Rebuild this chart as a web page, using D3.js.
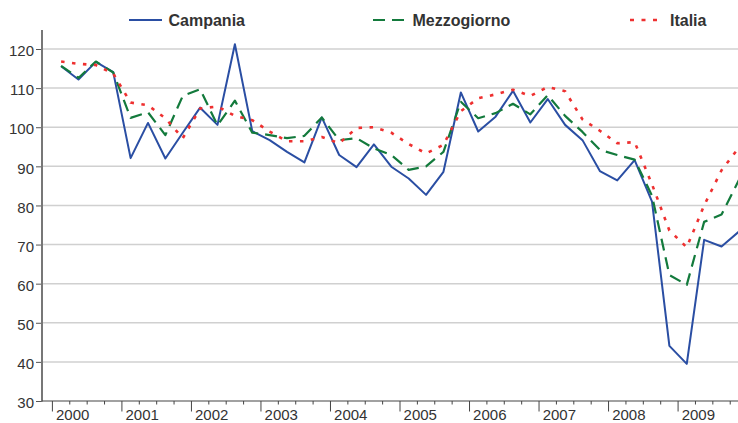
<!DOCTYPE html>
<html><head><meta charset="utf-8">
<script src="https://cdn.jsdelivr.net/npm/d3@7"></script>
<style>html,body{margin:0;padding:0;background:#fff;}svg{display:block;font-family:"Liberation Sans",Arial,sans-serif;}</style>
</head><body>
<svg id="c" width="738" height="423"></svg>
<script>
const years = [2000,2001,2002,2003,2004,2005,2006,2007,2008,2009];
const yTicks = [30,40,50,60,70,80,90,100,110,120];
const seriesNames = ["Campania","Mezzogiorno","Italia"];
const campania = [115.6,112.2,116.7,114.1,92.1,101.1,92.0,98.6,105.0,100.6,121.2,99.0,96.7,93.7,91.0,102.5,92.9,89.8,95.6,89.9,86.9,82.7,88.6,108.9,98.9,102.7,109.3,101.2,107.2,100.6,96.7,88.8,86.4,91.6,81.0,44.1,39.5,71.2,69.5,73.3];
const mezzogiorno = [115.7,112.6,116.8,114.0,102.4,103.8,98.0,108.0,109.7,100.5,106.8,98.6,98.0,97.2,97.8,102.5,96.7,97.2,94.6,92.9,89.1,90.0,93.7,106.5,102.3,103.6,106.0,103.3,108.2,102.9,98.8,94.2,92.9,91.7,82.5,62.2,59.7,75.8,77.7,86.5];
const italia = [116.8,116.2,115.9,113.7,106.3,105.6,102.3,97.2,104.8,105.3,102.9,101.8,98.9,96.4,96.4,97.5,95.9,99.8,100.0,98.6,95.7,93.3,95.5,104.1,107.4,108.4,109.6,108.0,110.3,109.2,102.0,99.1,95.9,96.2,85.4,73.6,69.3,80.0,89.0,94.8];

const svg = d3.select("#c");
const W = 738;
const x = d3.scaleLinear().domain([2000, 2010]).range([52.4, 747.6]);
const y = d3.scaleLinear().domain([30, 120]).range([401, 49]);
const axisLeftX = 42;
const qx = i => x(2000 + (i + 0.5) / 4);

// gridlines
svg.append("g").selectAll("line").data(yTicks.filter(d => d > 30)).join("line")
  .attr("x1", axisLeftX).attr("x2", W).attr("y1", d => y(d)).attr("y2", d => y(d))
  .attr("stroke", "#d0d0d0").attr("stroke-width", 1.5);

// y axis
const ya = svg.append("g").attr("transform", `translate(${axisLeftX},0)`)
  .call(d3.axisLeft(y).tickValues(yTicks).tickSize(6).tickPadding(2));
ya.select(".domain").remove();
ya.selectAll(".tick line").attr("stroke", "#555").attr("stroke-width", 1);
ya.selectAll(".tick text").attr("font-size", 15).attr("fill", "#333").attr("dy", "0.45em")
  .attr("font-family", "Liberation Sans, Arial, sans-serif");
svg.append("line").attr("x1", axisLeftX).attr("x2", axisLeftX).attr("y1", 30).attr("y2", 401.5)
  .attr("stroke", "#777").attr("stroke-width", 2);

// x axis
const quarters = d3.range(0, 40).map(q => 2000 + q / 4);
const xa = svg.append("g").attr("transform", "translate(0,401)");
xa.append("line").attr("x1", axisLeftX).attr("x2", W).attr("stroke", "#444").attr("stroke-width", 1.2);
xa.selectAll("line.minor").data(quarters.filter((d, i) => i % 4 !== 0)).join("line")
  .attr("class", "minor").attr("x1", d => x(d)).attr("x2", d => x(d)).attr("y1", 0).attr("y2", 3.5)
  .attr("stroke", "#444").attr("stroke-width", 1);
xa.selectAll("line.major").data(years).join("line")
  .attr("class", "major").attr("x1", d => x(d)).attr("x2", d => x(d)).attr("y1", 0).attr("y2", 10.5)
  .attr("stroke", "#444").attr("stroke-width", 1);
xa.selectAll("text").data(years).join("text")
  .attr("x", d => x(d) + 3.6).attr("y", 18.8)
  .attr("font-size", 15).attr("fill", "#333").text(d => d);

// lines
const line = d3.line().x((d, i) => qx(i)).y(d => y(d));
const styles = [
  {data: campania, color: "#2a4ea3", dash: null, w: 2},
  {data: mezzogiorno, color: "#137a3c", dash: "12,7", w: 2.2},
  {data: italia, color: "#ee3030", dash: "3.5,7.5", w: 2.6}
];
styles.forEach(s => {
  svg.append("path").datum(s.data).attr("d", line).attr("fill", "none")
    .attr("stroke", s.color).attr("stroke-width", s.w)
    .attr("stroke-dasharray", s.dash).attr("stroke-linejoin", "round");
});

// legend
const legendX = [129, 373, 630];
const legendLen = [33, 33, 28];
const lg = svg.append("g");
seriesNames.forEach((n, k) => {
  const s = styles[k];
  lg.append("line").attr("x1", legendX[k]).attr("x2", legendX[k] + legendLen[k]).attr("y1", 20).attr("y2", 20)
    .attr("stroke", s.color).attr("stroke-width", s.w).attr("stroke-dasharray", k === 2 ? "4,7.5" : s.dash);
  lg.append("text").attr("x", legendX[k] + legendLen[k] + (k === 2 ? 12 : 6.5)).attr("y", 25.5)
    .attr("font-size", 16).attr("font-weight", "bold").attr("fill", "#333").text(n);
});
</script>
</body></html>
